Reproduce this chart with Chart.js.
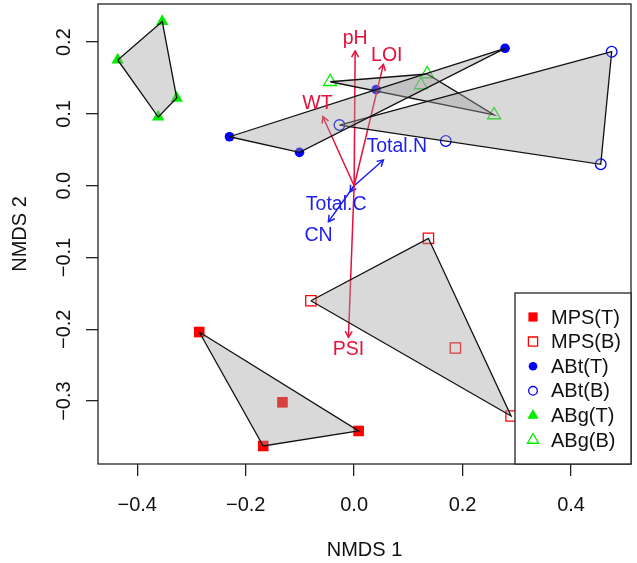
<!DOCTYPE html>
<html>
<head>
<meta charset="utf-8">
<script src="https://cdn.jsdelivr.net/npm/chart.js@4.4.0/dist/chart.umd.min.js"></script>
<style>
  html, body { margin: 0; padding: 0; background: #fff; }
</style>
</head>
<body>
<canvas id="nmds" width="637" height="563"></canvas>
<script>
// NMDS site scores
const groupNames = ["MPS(T)", "MPS(B)", "ABt(T)", "ABt(B)", "ABg(T)", "ABg(B)"];

const mpsTopX = [-0.2857, -0.1677, 0.0083, -0.1322];
const mpsTopY = [-0.2038, -0.3625, -0.3416, -0.3017];
const mpsBotX = [0.137, -0.0798, 0.1867, 0.2894];
const mpsBotY = [-0.0733, -0.1602, -0.226, -0.3207];
const abtTopX = [0.2783, -0.2299, -0.1008, 0.0406];
const abtTopY = [0.1914, 0.0682, 0.0465, 0.1338];
const abtBotX = [0.475, -0.0271, 0.169, 0.4548];
const abtBotY = [0.1866, 0.0845, 0.0623, 0.0298];
const abgTopX = [-0.3539, -0.436, -0.3272, -0.3613];
const abgTopY = [0.2287, 0.1751, 0.1221, 0.0957];
const abgBotX = [-0.0442, 0.1346, 0.2581, 0.123];
const abgBotY = [0.1448, 0.1556, 0.0985, 0.1403];

// fitted environmental vectors (tips) and where their names sit
const envNames = ["pH", "LOI", "WT", "PSI", "Total.N", "Total.C", "CN"];
const envX = [0.0018, 0.054, -0.0577, -0.0105, 0.054, -0.0074, -0.0474];
const envY = [0.1876, 0.169, 0.0961, -0.2111, 0.0358, -0.0084, -0.0501];
const envLabelX = [0.0018, 0.0602, -0.0677, -0.0105, 0.0787, -0.0332, -0.0658];
const envLabelY = [0.2053, 0.1815, 0.1138, -0.2279, 0.0543, -0.0269, -0.0701];
const envIsChem = [false, false, false, false, true, true, true];

// axes
const xTickValues = [-0.4, -0.2, 0, 0.2, 0.4];
const xTickLabels = ["\u22120.4", "\u22120.2", "0.0", "0.2", "0.4"];
const yTickValues = [-0.3, -0.2, -0.1, 0, 0.1, 0.2];
const yTickLabels = ["\u22120.3", "\u22120.2", "\u22120.1", "0.0", "0.1", "0.2"];

const RED = "#FF0000";
const BLUE = "#0000FF";
const GREEN = "#00EE00";
const ARROW_RED = "#E8103A";
const ARROW_BLUE = "#1E1EF0";
const FONT = "'Liberation Sans', Arial, sans-serif";

function toPoints(xs, ys) {
  return xs.map((x, i) => ({ x: x, y: ys[i] }));
}

// convex hull (monotone chain), closed for drawing
function hull(points) {
  const p = points.slice().sort((a, b) => a.x - b.x || a.y - b.y);
  const cross = (o, a, b) => (a.x - o.x) * (b.y - o.y) - (a.y - o.y) * (b.x - o.x);
  const lower = [];
  p.forEach((pt) => {
    while (lower.length >= 2 && cross(lower[lower.length - 2], lower[lower.length - 1], pt) <= 0) lower.pop();
    lower.push(pt);
  });
  const upper = [];
  p.slice().reverse().forEach((pt) => {
    while (upper.length >= 2 && cross(upper[upper.length - 2], upper[upper.length - 1], pt) <= 0) upper.pop();
    upper.push(pt);
  });
  const h = lower.slice(0, -1).concat(upper.slice(0, -1));
  h.push(h[0]);
  return h;
}

const groups = [
  { pts: toPoints(mpsTopX, mpsTopY), style: "rect", r: 7.5, color: RED, filled: true },
  { pts: toPoints(mpsBotX, mpsBotY), style: "rect", r: 7.3, color: RED, filled: false },
  { pts: toPoints(abtTopX, abtTopY), style: "circle", r: 4.8, color: BLUE, filled: true },
  { pts: toPoints(abtBotX, abtBotY), style: "circle", r: 5.3, color: BLUE, filled: false },
  { pts: toPoints(abgTopX, abgTopY), style: "triangle", r: 7.2, color: GREEN, filled: true },
  { pts: toPoints(abgBotX, abgBotY), style: "triangle", r: 7.5, color: GREEN, filled: false },
];

const datasets = [];

// points first (drawn underneath)
groups.forEach((g, i) => {
  datasets.push({
    label: groupNames[i],
    data: g.pts,
    pointStyle: g.style,
    pointRadius: g.r,
    backgroundColor: g.filled ? g.color : "rgba(0,0,0,0)",
    borderColor: g.color,
    borderWidth: g.filled ? 0 : 1.3,
    order: 3,
  });
});

// environmental arrows
envNames.forEach((name, i) => {
  datasets.push({
    type: "line",
    label: name,
    data: [{ x: 0, y: 0 }, { x: envX[i], y: envY[i] }],
    borderColor: envIsChem[i] ? ARROW_BLUE : ARROW_RED,
    borderWidth: 1.5,
    pointRadius: 0,
    fill: false,
    order: 2,
    isArrow: true,
  });
});

// hulls, semi-transparent on top
groups.forEach((g, i) => {
  datasets.push({
    type: "line",
    label: groupNames[i] + " hull",
    data: hull(g.pts),
    borderColor: "#111",
    borderWidth: 1.3,
    backgroundColor: "rgba(160,160,160,0.4)",
    pointRadius: 0,
    fill: "shape",
    tension: 0,
    order: 1,
  });
});

const frame = {
  id: "frame",
  beforeDatasetsDraw(chart) {
    const { ctx, chartArea: a } = chart;
    ctx.save();
    ctx.strokeStyle = "#222";
    ctx.lineWidth = 1.3;
    ctx.strokeRect(a.left, a.top, a.right - a.left, a.bottom - a.top);
    ctx.restore();
  },
};

const arrowHeads = {
  id: "arrowHeads",
  afterDatasetDraw(chart, args) {
    const ds = chart.data.datasets[args.index];
    if (!ds.isArrow) return;
    const [p0, p1] = args.meta.data;
    const ang = Math.atan2(p1.y - p0.y, p1.x - p0.x);
    const len = 7;
    const ctx = chart.ctx;
    ctx.save();
    ctx.strokeStyle = ds.borderColor;
    ctx.lineWidth = 1.5;
    ctx.beginPath();
    ctx.moveTo(p1.x - len * Math.cos(ang - Math.PI / 6), p1.y - len * Math.sin(ang - Math.PI / 6));
    ctx.lineTo(p1.x, p1.y);
    ctx.lineTo(p1.x - len * Math.cos(ang + Math.PI / 6), p1.y - len * Math.sin(ang + Math.PI / 6));
    ctx.stroke();
    ctx.restore();
  },
};

const labelsAndLegend = {
  id: "labelsAndLegend",
  afterDatasetsDraw(chart) {
    const { ctx, chartArea: a, scales } = chart;
    ctx.save();

    // vector names
    ctx.font = "19.5px " + FONT;
    ctx.textAlign = "center";
    ctx.textBaseline = "middle";
    envNames.forEach((name, i) => {
      ctx.fillStyle = envIsChem[i] ? ARROW_BLUE : ARROW_RED;
      ctx.fillText(name, scales.x.getPixelForValue(envLabelX[i]), scales.y.getPixelForValue(envLabelY[i]));
    });

    // legend box, bottom right of the plot
    const w = 116, h = 171;
    const left = a.right - w, top = a.bottom - h;
    ctx.fillStyle = "#fff";
    ctx.fillRect(left, top, w, h);
    ctx.strokeStyle = "#222";
    ctx.lineWidth = 1.3;
    ctx.strokeRect(left, top, w, h);

    ctx.font = "20px " + FONT;
    ctx.textAlign = "left";
    groups.forEach((g, i) => {
      const y = top + 24 + i * 24.6;
      ctx.fillStyle = g.filled ? g.color : "rgba(0,0,0,0)";
      ctx.strokeStyle = g.color;
      const r = g.style === "circle" ? 4.3 : 6.5;
      Chart.helpers.drawPoint(ctx, { pointStyle: g.style, radius: r, borderWidth: g.filled ? 0 : 1.3 }, left + 18, y);
      ctx.fillStyle = "#111";
      ctx.fillText(groupNames[i], left + 36, y + 1);
    });
    ctx.restore();
  },
};

new Chart(document.getElementById("nmds"), {
  type: "scatter",
  data: { datasets },
  options: {
    responsive: false,
    animation: false,
    events: [],
    layout: { autoPadding: false, padding: { top: 4, right: 6, left: 0, bottom: 0 } },
    plugins: {
      legend: { display: false },
      tooltip: { enabled: false },
    },
    scales: {
      x: {
        type: "linear",
        min: -0.4724,
        max: 0.5106,
        afterBuildTicks: (scale) => {
          scale.ticks = xTickValues.map((v) => ({ value: v }));
        },
        afterFit: (scale) => {
          scale.height = 99;
          scale.paddingLeft = 0;
          scale.paddingRight = 0;
        },
        ticks: {
          autoSkip: false,
          maxRotation: 0,
          padding: 17,
          color: "#111",
          font: { family: FONT, size: 20 },
          callback: (v, i) => xTickLabels[i],
        },
        grid: { drawOnChartArea: false, drawTicks: true, tickLength: 12, color: "#222", lineWidth: 1.3 },
        border: { display: false },
        title: {
          display: true,
          text: "NMDS 1",
          color: "#111",
          font: { family: FONT, size: 20 },
          padding: { top: 0, bottom: 1 },
        },
      },
      y: {
        type: "linear",
        min: -0.3876,
        max: 0.2531,
        afterBuildTicks: (scale) => {
          scale.ticks = yTickValues.map((v) => ({ value: v }));
        },
        afterFit: (scale) => {
          scale.width = 98;
          scale.paddingTop = 0;
          scale.paddingBottom = 0;
        },
        ticks: {
          autoSkip: false,
          minRotation: 90,
          maxRotation: 90,
          crossAlign: "center",
          padding: 2,
          color: "#111",
          font: { family: FONT, size: 20 },
          callback: (v, i) => yTickLabels[i],
        },
        grid: { drawOnChartArea: false, drawTicks: true, tickLength: 12, color: "#222", lineWidth: 1.3 },
        border: { display: false },
        title: {
          display: true,
          text: "NMDS 2",
          color: "#111",
          font: { family: FONT, size: 20 },
          padding: { top: 8, bottom: 0 },
        },
      },
    },
  },
  plugins: [frame, arrowHeads, labelsAndLegend],
});
</script>
</body>
</html>
